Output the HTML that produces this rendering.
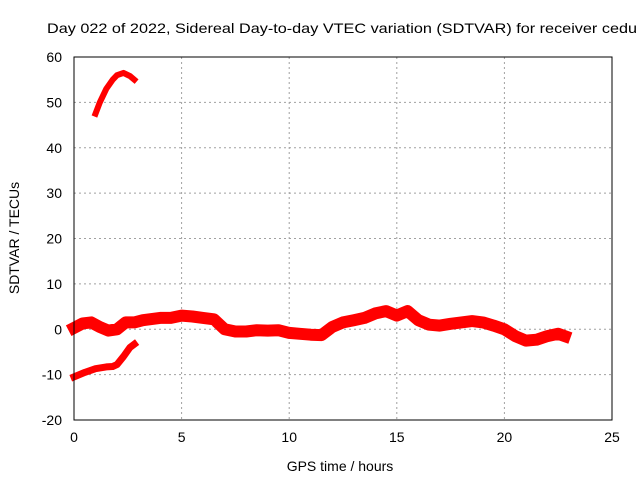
<!DOCTYPE html>
<html><head><meta charset="utf-8"><style>
body{margin:0;background:#fff}
svg{display:block;font-family:"Liberation Sans",sans-serif}
</style></head><body>
<svg id="chart" width="640" height="480">
<rect width="640" height="480" fill="#fff"/>
<g id="grid"></g><g id="series"></g><g id="axes"></g>
<text x="47" y="33" font-size="14" textLength="590" lengthAdjust="spacingAndGlyphs">Day 022 of 2022, Sidereal Day-to-day VTEC variation (SDTVAR) for receiver cedu</text>
<text x="340" y="471" font-size="14" text-anchor="middle">GPS time / hours</text>
<text transform="translate(19,238) rotate(-90)" font-size="14" text-anchor="middle">SDTVAR / TECUs</text>
</svg>
<script>
const xTicks=[0,5,10,15,20,25];
const yTicks=[-20,-10,0,10,20,30,40,50,60];
const arcX=[1.0,1.2,1.5,1.8,2.0,2.3,2.6,2.8];
const arcY=[47.5,50,53,55,56,56.5,55.8,55];
const lowX=[0,0.5,1.0,1.5,1.8,2.0,2.3,2.6,2.8];
const lowY=[-10.5,-9.5,-8.7,-8.3,-8.2,-7.8,-6,-4,-3.3];
const mainX=[0,0.4,0.8,1.2,1.6,2.0,2.4,2.8,3.2,4,4.5,5,5.5,6,6.5,7,7.5,8,8.5,9,9.5,10,10.5,11,11.5,12,12.5,13,13.5,14,14.5,15,15.5,16,16.5,17,17.5,18,18.5,19,19.5,20,20.5,21,21.5,22,22.5,22.8];
const mainY=[0.3,1.3,1.5,0.5,-0.3,0,1.5,1.5,2,2.5,2.5,3,2.8,2.5,2.2,0,-0.5,-0.5,-0.2,-0.3,-0.2,-0.8,-1,-1.2,-1.3,0.5,1.5,2,2.5,3.5,4,3,4,2,1,0.8,1.2,1.5,1.8,1.5,0.8,0,-1.5,-2.5,-2.3,-1.5,-1,-1.5];
const L=74,R=612,T=57,B=420;
const sx=v=>L+(v-0)/25*(R-L);
const sy=v=>B-(v+20)/80*(B-T);
const NS="http://www.w3.org/2000/svg";
function mk(tag,attrs,parent){const e=document.createElementNS(NS,tag);for(const k in attrs)e.setAttribute(k,attrs[k]);parent.appendChild(e);return e;}
const grid=document.getElementById('grid'),axes=document.getElementById('axes'),ser=document.getElementById('series');
xTicks.forEach(t=>{
 if(t>0&&t<25){const g=mk('line',{x1:sx(t),x2:sx(t),y1:T,y2:B,stroke:'#a0a0a0','stroke-dasharray':'2,3'},grid);
 
 }
 const tx=mk('text',{x:sx(t),y:B+22,'font-size':14,'text-anchor':'middle'},axes);tx.textContent=t;
 
 
});
yTicks.forEach(t=>{
 if(t>-20&&t<60){const g=mk('line',{x1:L,x2:R,y1:sy(t),y2:sy(t),stroke:'#a0a0a0','stroke-dasharray':'2,3'},grid);
 
 }
 const tx=mk('text',{x:L-12,y:sy(t)+5,'font-size':14,'text-anchor':'end'},axes);tx.textContent=t;
 
 
});
const fr=mk('rect',{x:L,y:T,width:R-L,height:B-T,fill:'none',stroke:'#000','stroke-width':1},axes);


function series(xs,ys,w,name){
 const d=xs.map((x,i)=>(i?'L':'M')+sx(x).toFixed(1)+','+sy(ys[i]).toFixed(1)).join('');
 const p=mk('path',{d:d,fill:'none',stroke:'#ff0000','stroke-width':w,'stroke-linejoin':'round','stroke-linecap':'square'},ser);
 
 
}
series(arcX,arcY,6,'series-arc');
series(lowX,lowY,7,'series-low');
series(mainX,mainY,12,'series-main');
</script>
</body></html>
